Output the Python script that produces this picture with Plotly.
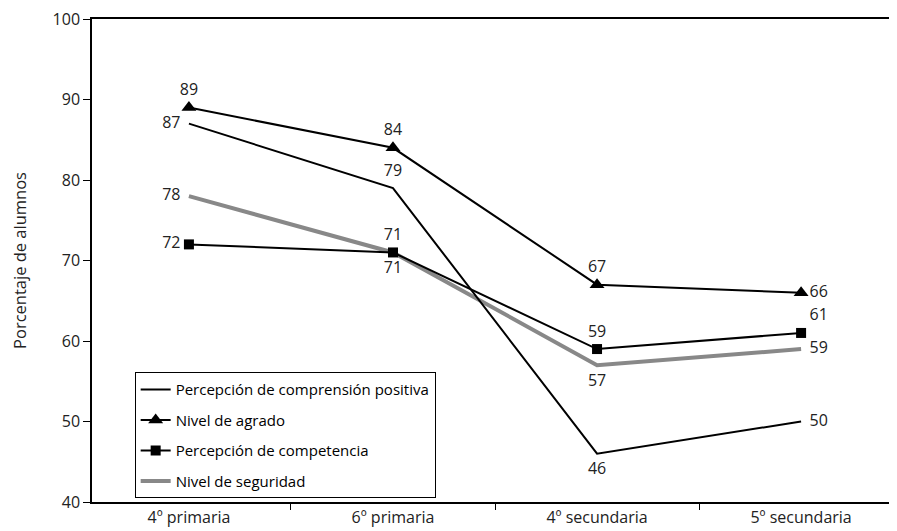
import plotly.graph_objects as go

categorias = ["4º primaria", "6º primaria", "4º secundaria", "5º secundaria"]
comprension = [87, 79, 46, 50]
agrado = [89, 84, 67, 66]
competencia = [72, 71, 59, 61]
seguridad = [78, 71, 57, 59]

pos_comprension = ["middle left", "top center", "bottom center", "middle right"]
pos_agrado = ["top center", "top center", "top center", "middle right"]
pos_competencia = ["middle left", "top center", "top center", "top right"]
pos_seguridad = ["middle left", "bottom center", "bottom center", "middle right"]

FONT = "Open Sans"
TXT = "#222222"

fig = go.Figure()

series = [
    ("Percepción de comprensión positiva", comprension, pos_comprension,
     dict(color="black", width=2), dict(size=1, opacity=0), "lines"),
    ("Nivel de agrado", agrado, pos_agrado,
     dict(color="black", width=2), dict(symbol="triangle-up", size=13, color="black"), "lines+markers"),
    ("Percepción de competencia", competencia, pos_competencia,
     dict(color="black", width=2), dict(symbol="square", size=10, color="black"), "lines+markers"),
    ("Nivel de seguridad", seguridad, pos_seguridad,
     dict(color="#888888", width=4), dict(size=1, opacity=0), "lines"),
]

# draw seguridad below the black lines
order = [3, 0, 1, 2]
for i in order:
    name, vals, pos, line, marker, mode = series[i]
    fig.add_trace(go.Scatter(
        x=categorias, y=vals, name=name, mode=mode, line=line,
        marker=marker, legendgroup=name, legendrank=i + 1,
        cliponaxis=False,
    ))

for i in range(4):
    name, vals, pos, line, marker, mode = series[i]
    fig.add_trace(go.Scatter(
        x=categorias, y=vals, mode="markers+text", text=[str(v) for v in vals],
        textposition=pos, textfont=dict(family=FONT, size=16, color=TXT),
        marker=dict(size=12, opacity=0),
        showlegend=False, cliponaxis=False, hoverinfo="skip",
    ))

fig.update_layout(
    width=889, height=523,
    margin=dict(l=84, r=0, t=11, b=29, autoexpand=False),
    paper_bgcolor="white", plot_bgcolor="white",
    font=dict(family=FONT, size=16, color=TXT),
    showlegend=True,
    legend=dict(
        x=0.053, y=0.008, xanchor="left", yanchor="bottom",
        bgcolor="white", bordercolor="black", borderwidth=1,
        font=dict(family=FONT, size=15, color="black"),
        tracegroupgap=8, itemwidth=30,
    ),
    xaxis=dict(
        type="category", range=[-0.475, 3.47], automargin=False,
        showline=True, linecolor="black", linewidth=1.5, mirror=True,
        ticks="outside", ticklen=6, tickcolor="black", tickson="boundaries",
        showgrid=False, zeroline=False, ticklabeloverflow="allow",
        tickfont=dict(family=FONT, size=16, color=TXT),
    ),
    yaxis=dict(
        range=[40, 100], dtick=10, automargin=False,
        showline=True, linecolor="black", linewidth=1.5,
        ticks="outside", ticklen=7, tickcolor="black",
        showgrid=False, zeroline=False, ticklabeloverflow="allow",
        tickfont=dict(family=FONT, size=16, color=TXT),
        title=dict(text="Porcentaje de alumnos", standoff=33,
                   font=dict(family=FONT, size=16.5, color=TXT)),
    ),
)

fig.write_html("out.html")
